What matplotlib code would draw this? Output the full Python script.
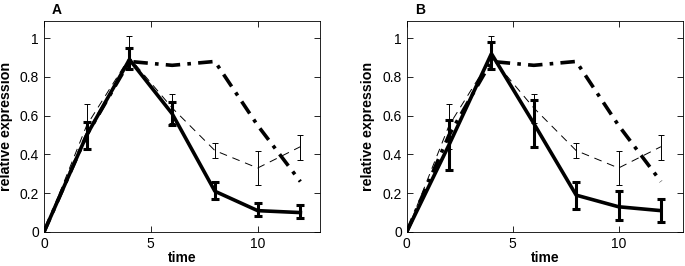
import matplotlib
matplotlib.use("Agg")
import matplotlib.pyplot as plt

plt.rcParams['font.family'] = ['Liberation Sans', 'DejaVu Sans']

time = [0, 2, 4, 6, 8, 10, 12]

# measured data (thin dashed, thin error bars) - same in both panels
data_mean = [0.0, 0.55, 0.90, 0.64, 0.42, 0.33, 0.44]
data_lo = [0.0, 0.43, 0.84, 0.56, 0.38, 0.24, 0.37]
data_hi = [0.0, 0.66, 1.01, 0.71, 0.46, 0.42, 0.50]

# dash-dot curve (no error bars) - same in both panels
dashdot = [0.0, 0.50, 0.88, 0.86, 0.88, 0.55, 0.26]

# solid model curves with error bars
solid_A = [0.0, 0.50, 0.89, 0.61, 0.21, 0.11, 0.10]
solid_A_lo = [0.0, 0.43, 0.84, 0.55, 0.17, 0.08, 0.07]
solid_A_hi = [0.0, 0.57, 0.95, 0.67, 0.26, 0.15, 0.14]

solid_B = [0.0, 0.45, 0.92, 0.56, 0.19, 0.13, 0.11]
solid_B_lo = [0.0, 0.32, 0.84, 0.44, 0.12, 0.06, 0.05]
solid_B_hi = [0.0, 0.58, 0.98, 0.68, 0.26, 0.21, 0.17]

panels = [("A", solid_A, solid_A_lo, solid_A_hi, 0.0642, 12.92),
          ("B", solid_B, solid_B_lo, solid_B_hi, 0.5937, 13.03)]

fig = plt.figure(figsize=(6.85, 2.66), dpi=100)

for label, s, slo, shi, left, xmax in panels:
    ax = fig.add_axes([left, 0.128, 0.403, 0.794])
    # data dashed thin
    derr = [[m - l for m, l in zip(data_mean, data_lo)],
            [h - m for m, h in zip(data_mean, data_hi)]]
    ax.errorbar(time[1:], data_mean[1:],
                yerr=[derr[0][1:], derr[1][1:]], fmt='none',
                ecolor='black', elinewidth=0.7, capsize=2.5, capthick=0.7)
    ax.plot(time, data_mean, color='black', lw=0.7, ls=(0, (8, 6)))
    # dash-dot thick
    ax.plot(time, dashdot, color='black', lw=2.6, ls=(0, (4, 2, 1, 2)))
    # solid thick with error bars
    serr = [[m - l for m, l in zip(s, slo)], [h - m for m, h in zip(s, shi)]]
    ax.errorbar(time[1:], s[1:], yerr=[serr[0][1:], serr[1][1:]], fmt='none',
                ecolor='black', elinewidth=2.2, capsize=3, capthick=2.2)
    ax.plot(time, s, color='black', lw=2.6)

    ax.set_xlim(0, xmax)
    ax.set_ylim(0, 1.09)
    ax.set_xticks([0, 5, 10])
    ax.set_yticks([0, 0.2, 0.4, 0.6, 0.8, 1.0])
    ax.set_yticklabels(['0', '0.2', '0.4', '0.6', '0.8', '1'])
    ax.tick_params(direction='in', top=True, right=True, length=4,
                   width=0.6, labelsize=10, pad=3.5)
    for sp in ax.spines.values():
        sp.set_linewidth(0.6)
    ax.set_xlabel('time', fontsize=10, fontweight='bold')
    ax.xaxis.set_label_coords(0.5, -0.092)
    ax.xaxis.label.set_va('top')
    ax.set_ylabel('relative expression', fontsize=10.3, fontweight='bold')
    ax.yaxis.set_label_coords(-0.113, 0.5)
    ax.text(0.029, 1.032, label, transform=ax.transAxes, fontsize=10,
            fontweight='bold', ha='left', va='baseline')

fig.savefig('out.png', dpi=100)
